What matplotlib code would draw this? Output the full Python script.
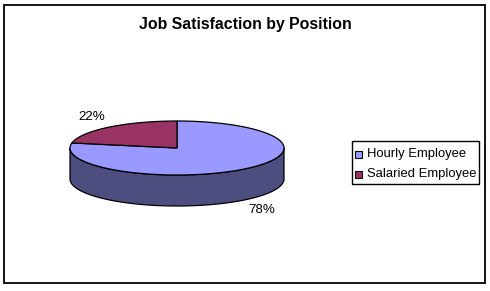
import numpy as np
import matplotlib
matplotlib.use("Agg")
import matplotlib.pyplot as plt
from matplotlib.patches import Polygon, Rectangle

plt.rcParams['font.family'] = ['Liberation Sans', 'DejaVu Sans']

title = "Job Satisfaction by Position"
categories = ["Hourly Employee", "Salaried Employee"]
values = [78, 22]
top_colors = ["#9999FF", "#993366"]
side_colors = ["#4D4D80", "#4D1A33"]

W, H = 490, 291
fig = plt.figure(figsize=(W / 100, H / 100), dpi=100)
ax = fig.add_axes([0, 0, 1, 1])
ax.set_xlim(0, W)
ax.set_ylim(H, 0)
ax.axis('off')

# chart border
ax.add_patch(Rectangle((4, 5), 481, 278, fill=False, ec='black', lw=1.3))
ax.text(245, 25, title, ha='center', va='center', fontsize=11.4, fontweight='bold')

# 3D pie geometry
cx, cy, a, b, depth = 177, 148, 107, 27, 31

def pt(theta_deg, k=1.0, dy=0.0):
    t = np.radians(theta_deg)
    return cx + a * k * np.cos(t), cy - b * k * np.sin(t) + dy

total = float(sum(values))
starts = []
spans = []
ang = 90.0
for v in values:
    span = 360.0 * v / total
    starts.append(ang)
    spans.append(span)
    ang -= span

# side walls (front half, angles in [180, 360])
for i, v in enumerate(values):
    lo, hi = starts[i] - spans[i], starts[i]
    for shift in (-360, 0, 360):
        l = max(lo + shift, 180)
        h = min(hi + shift, 360)
        if h > l:
            th = np.linspace(l, h, 120)
            topx, topy = pt(th)
            poly = np.column_stack([np.r_[topx, topx[::-1]],
                                    np.r_[topy, (topy + depth)[::-1]]])
            ax.add_patch(Polygon(poly, closed=True, fc=side_colors[i], ec='black', lw=0.9, zorder=2))

# top face wedges
for i, v in enumerate(values):
    th = np.linspace(starts[i] - spans[i], starts[i], 300)
    x, y = pt(th)
    poly = np.column_stack([np.r_[cx, x, cx], np.r_[cy, y, cy]])
    ax.add_patch(Polygon(poly, closed=True, fc=top_colors[i], ec='black', lw=0.9, zorder=3))

# percent labels
for i, v in enumerate(values):
    mid = starts[i] - spans[i] / 2
    x, y = pt(mid, k=1.25)
    if np.sin(np.radians(mid)) < 0:
        y += depth + 5
    else:
        y -= 5
    ax.text(x, y, f"{v}%", ha='center', va='center', fontsize=9.6)

# legend
ax.add_patch(Rectangle((352, 141), 127, 43, fill=False, ec='black', lw=1.0))
for i, cat in enumerate(categories):
    yy = 154 + i * 20
    ax.add_patch(Rectangle((355, yy - 3.5), 7, 7, fc=top_colors[i], ec='black', lw=0.8))
    ax.text(367, yy, cat, ha='left', va='center', fontsize=9.4)

fig.savefig("out.png", dpi=100)
